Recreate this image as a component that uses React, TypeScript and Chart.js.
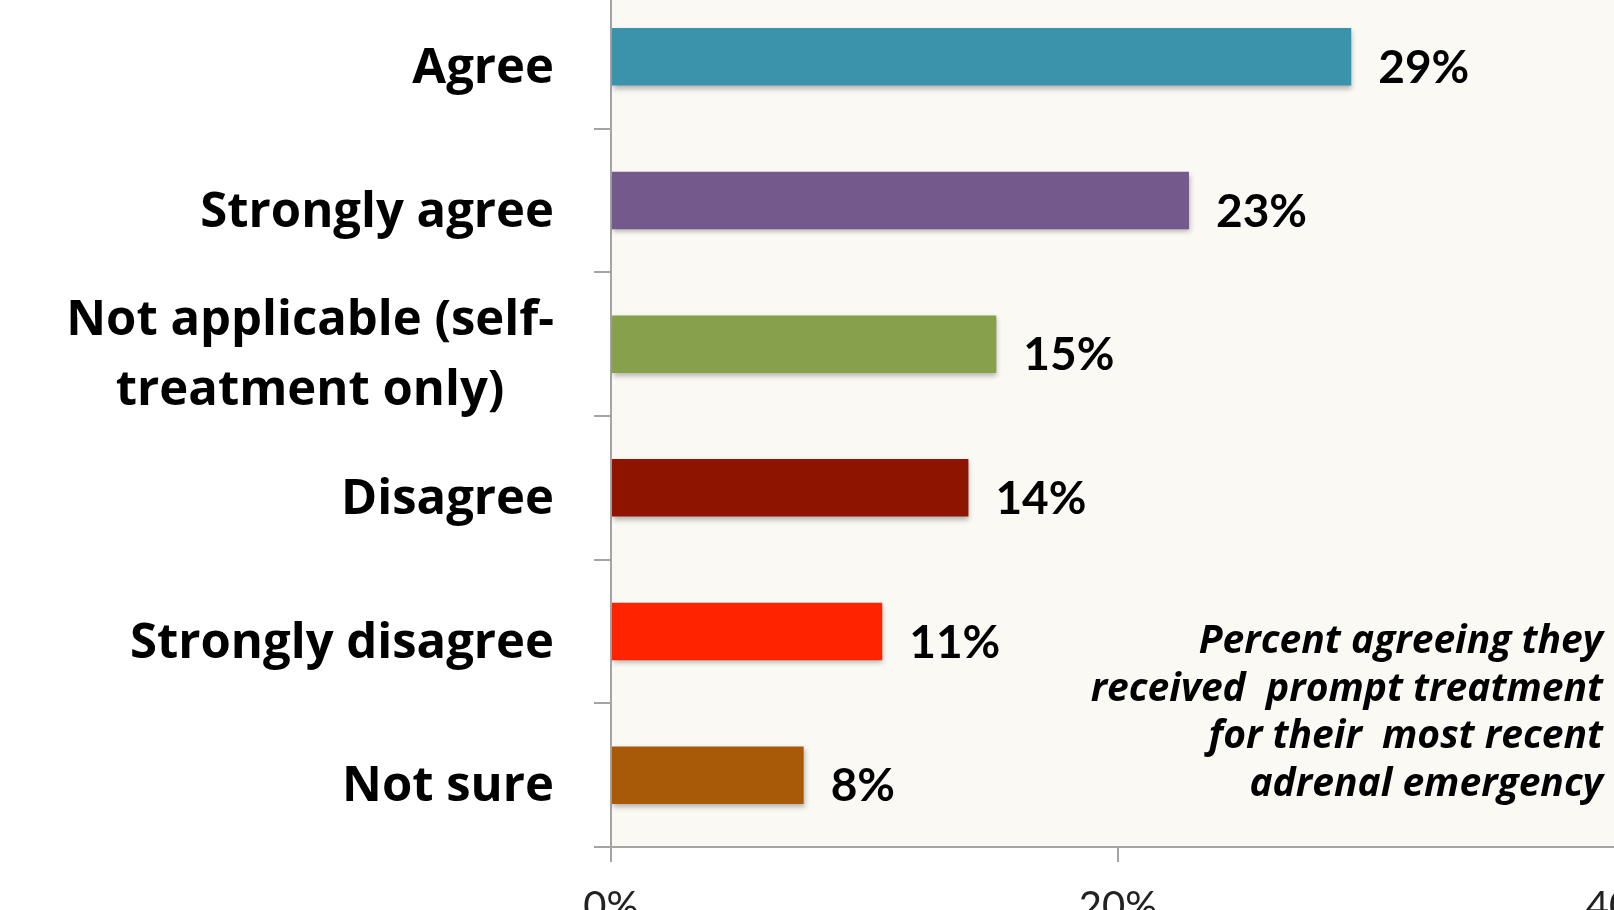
import React, { useEffect, useRef } from "react";
import { Chart, registerables } from "chart.js";

Chart.register(...registerables);

// ---- data ----
const categories: string[][] = [
  ["Agree"],
  ["Strongly agree"],
  ["Not applicable (self-", "treatment only)"],
  ["Disagree"],
  ["Strongly disagree"],
  ["Not sure"],
];
const percentValues: number[] = [29.2, 22.8, 15.2, 14.1, 10.7, 7.6];
const valueLabels: string[] = ["29%", "23%", "15%", "14%", "11%", "8%"];
const xTickValues: number[] = [0, 20, 40];
const noteLines: string[] = [
  "Percent agreeing they",
  "received  prompt treatment",
  "for their  most recent",
  "adrenal emergency",
];

// ---- styles ----
const barColors = ["#3a93aa", "#745a8c", "#87a04b", "#8e1400", "#ff2400", "#a85a08"];
const LABEL_FONT = "'Open Sans', Lato, sans-serif";
const VALUE_FONT = "Lato, 'Open Sans', sans-serif";
const AXIS_GREY = "#a4a4a4";
const PLOT_BG = "#faf9f4";
const CANVAS_W = 1680;
const CANVAS_H = 1000;
const CANVAS_TOP = -40;
const LABEL_SIZE = 49;
const VALUE_SIZE = 46;
const LABEL_LINE = 70;
const LABEL_BASE_DY = 26;
const NOTE_SIZE = 39;

export default function App() {
  const ref = useRef<HTMLCanvasElement>(null);

  useEffect(() => {
    const canvas = ref.current;
    if (!canvas) return;

    const plotBg = {
      id: "plotBg",
      beforeDraw(chart: any) {
        const { ctx, chartArea: a } = chart;
        ctx.save();
        ctx.fillStyle = PLOT_BG;
        ctx.fillRect(a.left, a.top, a.right - a.left, a.bottom - a.top);
        ctx.restore();
      },
    };

    const barShadow = {
      id: "barShadow",
      beforeDatasetsDraw(chart: any) {
        const ctx = chart.ctx;
        ctx.save();
        ctx.shadowColor = "rgba(0,0,0,0.28)";
        ctx.shadowBlur = 5;
        ctx.shadowOffsetX = 1;
        ctx.shadowOffsetY = 3;
      },
      afterDatasetsDraw(chart: any) {
        chart.ctx.restore();
      },
    };

    const texts = {
      id: "texts",
      afterDraw(chart: any) {
        const { ctx, chartArea } = chart;
        const yScale = chart.scales.y;
        const meta = chart.getDatasetMeta(0);
        ctx.save();
        ctx.fillStyle = "#000";
        ctx.textBaseline = "alphabetic";
        ctx.font = `bold ${LABEL_SIZE}px ${LABEL_FONT}`;
        const labelRight = chartArea.left - 57;
        categories.forEach((lines, i) => {
          const cy = yScale.getPixelForValue(i) + LABEL_BASE_DY;
          const block = Math.max(...lines.map((l) => ctx.measureText(l).width));
          const cx = labelRight - block / 2;
          ctx.textAlign = "center";
          lines.forEach((l, j) => {
            ctx.fillText(l, cx, cy + (j - (lines.length - 1) / 2) * LABEL_LINE);
          });
        });
        ctx.font = `bold ${VALUE_SIZE}px ${VALUE_FONT}`;
        ctx.textAlign = "left";
        meta.data.forEach((bar: any, i: number) => {
          ctx.fillText(valueLabels[i], bar.x + 27, bar.y + LABEL_BASE_DY);
        });
        ctx.font = `italic bold ${NOTE_SIZE}px ${LABEL_FONT}`;
        ctx.textAlign = "right";
        const noteRight = 1603;
        const noteBase = chartArea.bottom - 194;
        noteLines.forEach((l, j) => {
          ctx.fillText(l, noteRight, noteBase + j * 47.7);
        });
        ctx.restore();
      },
    };

    const chart = new Chart(canvas, {
      type: "bar",
      data: {
        labels: categories.map((c) => c.join(" ")),
        datasets: [
          {
            data: percentValues,
            backgroundColor: barColors,
            borderWidth: 0,
            barPercentage: 0.4,
            categoryPercentage: 1,
          },
        ],
      },
      options: {
        indexAxis: "y",
        animation: false,
        responsive: false,
        maintainAspectRatio: false,
        layout: { padding: { top: 25, left: 0, right: 55, bottom: 13 } },
        plugins: {
          legend: { display: false },
          tooltip: { enabled: false },
          title: { display: false },
        },
        scales: {
          x: {
            type: "linear",
            min: 0,
            max: 40,
            afterBuildTicks(scale: any) {
              scale.ticks = xTickValues.map((v) => ({ value: v }));
            },
            afterFit(scale: any) {
              scale.height = 100;
              scale.paddingLeft = 0;
              scale.paddingRight = 0;
            },
            ticks: {
              callback: (v: any) => `${v}%`,
              font: { family: VALUE_FONT, size: 40 },
              color: "#222",
              padding: 21,
              maxRotation: 0,
            },
            grid: {
              drawOnChartArea: false,
              drawTicks: true,
              tickLength: 15,
              color: AXIS_GREY,
              lineWidth: 2,
            },
            border: { display: true, color: AXIS_GREY, width: 2 },
          },
          y: {
            type: "category",
            afterFit(scale: any) {
              scale.width = 611;
              scale.paddingTop = 0;
              scale.paddingBottom = 0;
            },
            ticks: { display: false },
            grid: {
              offset: true,
              drawOnChartArea: false,
              drawTicks: true,
              tickLength: 17,
              color: AXIS_GREY,
              lineWidth: 2,
            },
            border: { display: true, color: AXIS_GREY, width: 2 },
          },
        },
      },
      plugins: [plotBg, barShadow, texts],
    });

    return () => chart.destroy();
  }, []);

  return (
    <div
      style={{
        position: "fixed",
        left: 0,
        top: 0,
        width: 1614,
        height: 910,
        overflow: "hidden",
        background: "#ffffff",
      }}
    >
      <canvas
        ref={ref}
        width={CANVAS_W}
        height={CANVAS_H}
        style={{ position: "absolute", left: 0, top: CANVAS_TOP, width: CANVAS_W, height: CANVAS_H }}
      />
    </div>
  );
}
